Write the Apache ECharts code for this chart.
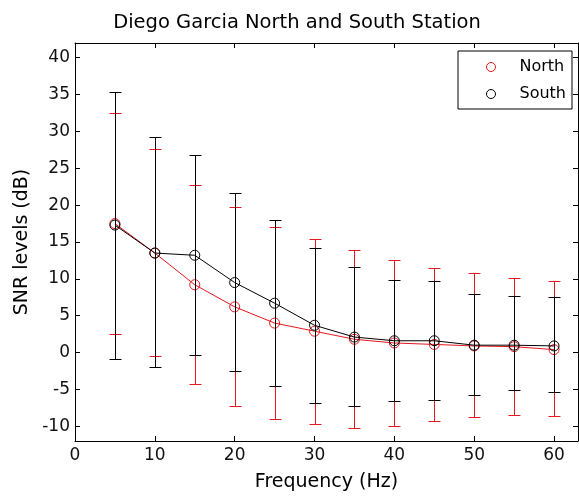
<!DOCTYPE html>
<html>
<head>
<meta charset="utf-8">
<script src="https://cdn.jsdelivr.net/npm/echarts@6/dist/echarts.min.js"></script>
<style>
html,body{margin:0;padding:0;background:#fff;}
#chart{width:579px;height:497px;}
</style>
</head>
<body>
<div id="chart"></div>
<script>
const freq = [5, 10, 15, 20, 25, 30, 35, 40, 45, 50, 55, 60];
const northMean  = [17.5, 13.5, 9.2, 6.2, 4.0, 2.9, 1.8, 1.3, 1.1, 0.9, 0.8, 0.4];
const northUpper = [32.5, 27.6, 22.8, 19.7, 17.0, 15.4, 13.9, 12.6, 11.5, 10.8, 10.1, 9.7];
const northLower = [2.5, -0.4, -4.2, -7.2, -9.0, -9.7, -10.2, -9.9, -9.3, -8.7, -8.5, -8.6];
const southMean  = [17.3, 13.5, 13.2, 9.5, 6.7, 3.7, 2.1, 1.6, 1.6, 1.0, 1.0, 0.9];
const southUpper = [35.4, 29.2, 26.8, 21.6, 18.0, 14.2, 11.6, 9.9, 9.7, 7.9, 7.7, 7.6];
const southLower = [-0.9, -2.0, -0.3, -2.5, -4.5, -6.8, -7.3, -6.6, -6.4, -5.8, -5.1, -5.4];
const xTicks = [0, 10, 20, 30, 40, 50, 60];
const yTicks = [-10, -5, 0, 5, 10, 15, 20, 25, 30, 35, 40];

const FONT = 'DejaVu Sans';
const RED = '#e3171e';
const BLACK = '#000000';

function errRender(color) {
  return function (params, api) {
    const x = api.value(0), lo = api.value(1), hi = api.value(2);
    const a = api.coord([x, lo]), b = api.coord([x, hi]);
    const cx = Math.round(a[0]) + 0.5;
    const yl = Math.round(a[1]) + 0.5, yh = Math.round(b[1]) + 0.5;
    const w = 6;
    const st = { stroke: color, lineWidth: 1 };
    return {
      type: 'group',
      children: [
        { type: 'line', shape: { x1: cx, y1: yl, x2: cx, y2: yh }, style: st },
        { type: 'line', shape: { x1: cx - w, y1: yh, x2: cx + w, y2: yh }, style: st },
        { type: 'line', shape: { x1: cx - w, y1: yl, x2: cx + w, y2: yl }, style: st }
      ]
    };
  };
}

const axisLine = { show: true, onZero: false, lineStyle: { color: '#000', width: 1 } };
const xTick = { show: true, inside: true, length: 5, customValues: xTicks, lineStyle: { color: '#000' } };
const yTick = { show: true, inside: true, length: 5, customValues: yTicks, lineStyle: { color: '#000' } };
const labelStyle = { color: '#111', fontFamily: FONT, fontSize: 17 };

const option = {
  animation: false,
  backgroundColor: '#fff',
  title: {
    text: 'Diego Garcia North and South Station',
    left: 292, top: 8, textAlign: 'center',
    textStyle: { fontFamily: FONT, fontSize: 19.5, fontWeight: 'normal', color: '#000' }
  },
  grid: { left: 75, top: 43, right: 1, bottom: 53, containLabel: false },
  legend: {
    data: [
      { name: 'North', icon: 'circle', itemStyle: { color: 'rgba(0,0,0,0)', borderColor: RED, borderWidth: 1 } },
      { name: 'South', icon: 'circle', itemStyle: { color: 'rgba(0,0,0,0)', borderColor: BLACK, borderWidth: 1 } }
    ],
    orient: 'vertical',
    left: 458, top: 51,
    itemWidth: 9, itemHeight: 9, itemGap: 11,
    padding: [8, 6, 7, 28],
    borderColor: '#000', borderWidth: 1, borderRadius: 0,
    backgroundColor: '#fff',
    textStyle: { fontFamily: FONT, fontSize: 16, color: '#000', lineHeight: 14, padding: [0, 0, 0, 19] }
  },
  xAxis: [
    {
      type: 'value', min: 0, max: 63,
      name: 'Frequency (Hz)', nameLocation: 'middle', nameGap: 32,
      nameTextStyle: { fontFamily: FONT, fontSize: 19, color: '#000' },
      axisLine, axisTick: xTick, splitLine: { show: false },
      axisLabel: Object.assign({ margin: 6, customValues: xTicks }, labelStyle)
    },
    {
      type: 'value', min: 0, max: 63, position: 'top',
      axisLine, axisTick: xTick, splitLine: { show: false }, axisLabel: { show: false }
    }
  ],
  yAxis: [
    {
      type: 'value', min: -12, max: 42,
      name: 'SNR levels (dB)', nameLocation: 'middle', nameGap: 42,
      nameTextStyle: { fontFamily: FONT, fontSize: 19, color: '#000' },
      axisLine, axisTick: yTick, splitLine: { show: false },
      axisLabel: Object.assign({ margin: 5, customValues: yTicks }, labelStyle)
    },
    {
      type: 'value', min: -12, max: 42, position: 'right',
      axisLine, axisTick: yTick, splitLine: { show: false }, axisLabel: { show: false }
    }
  ],
  series: [
    {
      name: 'North err', type: 'custom', renderItem: errRender(RED),
      data: freq.map((f, i) => [f, northLower[i], northUpper[i]]),
      encode: { x: 0, y: [1, 2] }, z: 1, silent: true
    },
    {
      name: 'North', type: 'line', data: freq.map((f, i) => [f, northMean[i]]),
      symbol: 'circle', symbolSize: 10, color: RED,
      lineStyle: { color: RED, width: 1 },
      itemStyle: { color: 'rgba(0,0,0,0)', borderColor: RED, borderWidth: 1 }, z: 2
    },
    {
      name: 'South err', type: 'custom', renderItem: errRender(BLACK),
      data: freq.map((f, i) => [f, southLower[i], southUpper[i]]),
      encode: { x: 0, y: [1, 2] }, z: 3, silent: true
    },
    {
      name: 'South', type: 'line', data: freq.map((f, i) => [f, southMean[i]]),
      symbol: 'circle', symbolSize: 10, color: BLACK,
      lineStyle: { color: BLACK, width: 1 },
      itemStyle: { color: 'rgba(0,0,0,0)', borderColor: BLACK, borderWidth: 1 }, z: 4
    }
  ]
};

const chart = echarts.init(document.getElementById('chart'), null, { renderer: 'canvas' });
chart.setOption(option);
</script>
</body>
</html>
